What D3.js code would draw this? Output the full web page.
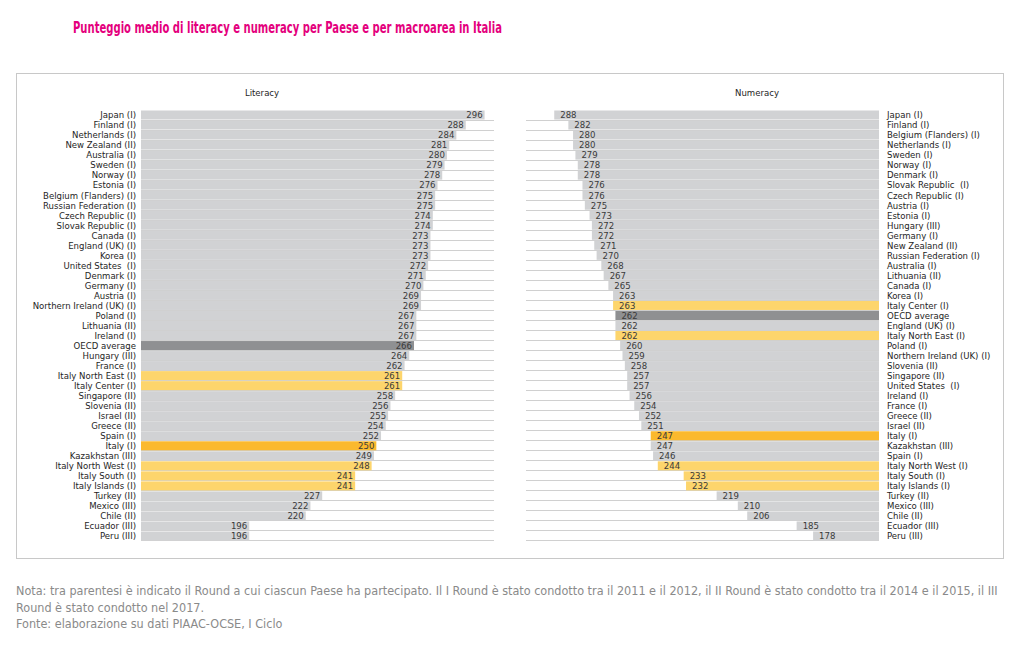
<!DOCTYPE html>
<html>
<head>
<meta charset="utf-8">
<script src="https://cdn.jsdelivr.net/npm/d3@7"></script>
<style>
  html, body { margin: 0; padding: 0; background: #fff; }
  svg { display: block; }
</style>
</head>
<body>
<div id="chart"></div>
<script>
// Literacy (left panel), sorted as in the source
const litCountries = [
  "Japan (I)", "Finland (I)", "Netherlands (I)", "New Zealand (II)", "Australia (I)",
  "Sweden (I)", "Norway (I)", "Estonia (I)", "Belgium (Flanders) (I)", "Russian Federation (I)",
  "Czech Republic (I)", "Slovak Republic (I)", "Canada (I)", "England (UK) (I)", "Korea (I)",
  "United States  (I)", "Denmark (I)", "Germany (I)", "Austria (I)", "Northern Ireland (UK) (I)",
  "Poland (I)", "Lithuania (II)", "Ireland (I)", "OECD average", "Hungary (III)",
  "France (I)", "Italy North East (I)", "Italy Center (I)", "Singapore (II)", "Slovenia (II)",
  "Israel (II)", "Greece (II)", "Spain (I)", "Italy (I)", "Kazakhstan (III)",
  "Italy North West (I)", "Italy South (I)", "Italy Islands (I)", "Turkey (II)", "Mexico (III)",
  "Chile (II)", "Ecuador (III)", "Peru (III)"
];
const litValues = [
  296, 288, 284, 281, 280, 279, 278, 276, 275, 275,
  274, 274, 273, 273, 273, 272, 271, 270, 269, 269,
  267, 267, 267, 266, 264, 262, 261, 261, 258, 256,
  255, 254, 252, 250, 249, 248, 241, 241, 227, 222,
  220, 196, 196
];

// Numeracy (right panel)
const numCountries = [
  "Japan (I)", "Finland (I)", "Belgium (Flanders) (I)", "Netherlands (I)", "Sweden (I)",
  "Norway (I)", "Denmark (I)", "Slovak Republic  (I)", "Czech Republic (I)", "Austria (I)",
  "Estonia (I)", "Hungary (III)", "Germany (I)", "New Zealand (II)", "Russian Federation (I)",
  "Australia (I)", "Lithuania (II)", "Canada (I)", "Korea (I)", "Italy Center (I)",
  "OECD average", "England (UK) (I)", "Italy North East (I)", "Poland (I)", "Northern Ireland (UK) (I)",
  "Slovenia (II)", "Singapore (II)", "United States  (I)", "Ireland (I)", "France (I)",
  "Greece (II)", "Israel (II)", "Italy (I)", "Kazakhstan (III)", "Spain (I)",
  "Italy North West (I)", "Italy South (I)", "Italy Islands (I)", "Turkey (II)", "Mexico (III)",
  "Chile (II)", "Ecuador (III)", "Peru (III)"
];
const numValues = [
  288, 282, 280, 280, 279, 278, 278, 276, 276, 275,
  273, 272, 272, 271, 270, 268, 267, 265, 263, 263,
  262, 262, 262, 260, 259, 258, 257, 257, 256, 254,
  252, 251, 247, 247, 246, 244, 233, 232, 219, 210,
  206, 185, 178
];

const scoreDomain = [150, 300];
const title = "Punteggio medio di literacy e numeracy per Paese e per macroarea in Italia";
const noteLines = [
  "Nota: tra parentesi è indicato il Round a cui ciascun Paese ha partecipato. Il I Round è stato condotto tra il 2011 e il 2012, il II Round è stato condotto tra il 2014 e il 2015, il III",
  "Round è stato condotto nel 2017.",
  "Fonte: elaborazione su dati PIAAC-OCSE, I Ciclo"
];

const W = 1024, H = 656;
const FONT = "'Liberation Sans Narrow', 'DejaVu Sans Condensed', Roboto, sans-serif";

const barColor = name => {
  if (name === "OECD average") return "#8f9092";
  if (name === "Italy (I)") return "#fbb92e";
  if (name.startsWith("Italy")) return "#fdd56c";
  return "#d1d2d4";
};

const svg = d3.select("#chart").append("svg")
  .attr("width", W).attr("height", H)
  .attr("viewBox", `0 0 ${W} ${H}`);

// Title (condensed bold in the original, squeezed to its width)
svg.append("text")
  .attr("x", 73).attr("y", 33)
  .attr("fill", "#e4007d")
  .attr("textLength", 429)
  .attr("lengthAdjust", "spacingAndGlyphs")
  .style("font-family", FONT)
  .style("font-weight", "bold")
  .style("font-size", "15px")
  .text(title);

// Frame
svg.append("rect")
  .attr("x", 16.5).attr("y", 73.5)
  .attr("width", 987).attr("height", 485)
  .attr("fill", "#fff")
  .attr("stroke", "#c8c8c8")
  .attr("stroke-width", 1);

const rowTop = 110, rowBottom = 541;

function panel(countries, values, opts) {
  const g = svg.append("g");
  const x = d3.scaleLinear().domain(scoreDomain).range(opts.range);
  const y = d3.scaleBand().domain(countries).range([rowTop, rowBottom]).paddingInner(0.1).paddingOuter(0.05);
  const rows = countries.map((c, i) => ({ name: c, value: values[i] }));
  const x0 = x(scoreDomain[0]), x1 = x(scoreDomain[1]);

  // row separators
  g.append("g").selectAll("line")
    .data(rows)
    .enter().append("line")
    .attr("x1", Math.min(x0, x1)).attr("x2", Math.max(x0, x1))
    .attr("y1", d => Math.round(y(d.name) + y.bandwidth()) + 0.5)
    .attr("y2", d => Math.round(y(d.name) + y.bandwidth()) + 0.5)
    .attr("stroke", "#c4c4c4")
    .attr("stroke-width", 0.8);

  // bars
  g.append("g").selectAll("rect")
    .data(rows)
    .enter().append("rect")
    .attr("x", d => Math.min(x0, x(d.value)))
    .attr("width", d => Math.abs(x(d.value) - x0))
    .attr("y", d => y(d.name))
    .attr("height", y.bandwidth())
    .attr("fill", d => barColor(d.name));

  // value labels
  g.append("g").selectAll("text")
    .data(rows)
    .enter().append("text")
    .attr("x", d => x(d.value) + opts.valueOffset)
    .attr("y", d => y(d.name) + y.bandwidth() / 2)
    .attr("dy", "0.35em")
    .attr("text-anchor", opts.valueAnchor)
    .attr("fill", "#3a3a3a")
    .style("font-family", FONT)
    .style("font-size", "9.5px")
    .text(d => d.value);

  // category labels
  g.append("g").selectAll("text")
    .data(rows)
    .enter().append("text")
    .attr("x", opts.labelX)
    .attr("y", d => y(d.name) + y.bandwidth() / 2)
    .attr("dy", "0.35em")
    .attr("text-anchor", opts.labelAnchor)
    .attr("fill", "#1e1e1e")
    .style("font-family", FONT)
    .style("font-size", "9.5px")
    .style("white-space", "pre")
    .text(d => d.name);

  // panel header
  g.append("text")
    .attr("x", opts.headerX)
    .attr("y", 96)
    .attr("text-anchor", "middle")
    .attr("fill", "#1e1e1e")
    .style("font-family", FONT)
    .style("font-size", "9.5px")
    .text(opts.header);
}

panel(litCountries, litValues, {
  range: [141, 494], header: "Literacy", headerX: 262,
  valueOffset: -2, valueAnchor: "end",
  labelX: 136, labelAnchor: "end"
});

panel(numCountries, numValues, {
  range: [879, 526], header: "Numeracy", headerX: 757,
  valueOffset: 6, valueAnchor: "start",
  labelX: 887, labelAnchor: "start"
});

// Footnote
svg.append("g").selectAll("text")
  .data(noteLines)
  .enter().append("text")
  .attr("x", 16)
  .attr("y", (d, i) => 595 + i * 16.5)
  .attr("fill", "#8a8a8a")
  .style("font-family", FONT)
  .style("font-size", "12.5px")
  .text(d => d);
</script>
</body>
</html>
